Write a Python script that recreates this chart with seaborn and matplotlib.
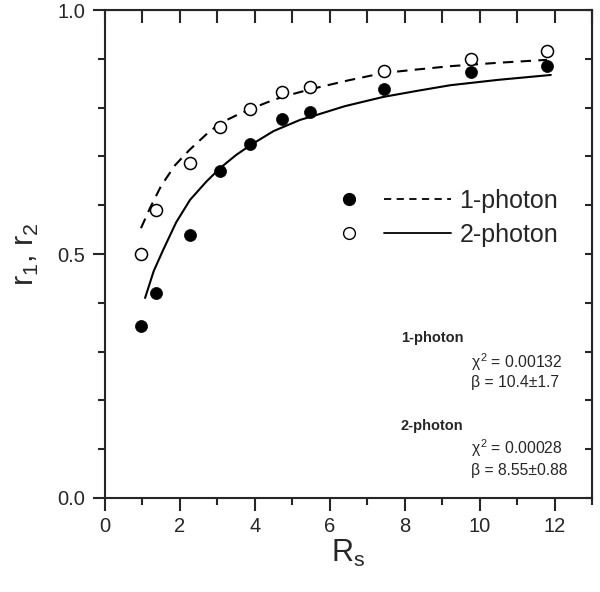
import numpy as np
import pandas as pd
import matplotlib
matplotlib.use("Agg")
import matplotlib.pyplot as plt
import seaborn as sns
from matplotlib.lines import Line2D
from matplotlib.legend_handler import HandlerBase
from matplotlib.ticker import MultipleLocator

# dati
rs = [0.97, 1.36, 2.26, 3.07, 3.88, 4.72, 5.48, 7.44, 9.76, 11.79]
r_pieni = [0.352, 0.420, 0.539, 0.670, 0.725, 0.777, 0.791, 0.838, 0.873, 0.885]
r_vuoti = [0.500, 0.590, 0.686, 0.760, 0.797, 0.832, 0.842, 0.875, 0.900, 0.916]

# curve di fit
tratt_x = [0.96, 1.2, 1.5, 1.87, 2.25, 2.7, 3.07, 3.5, 3.88, 4.3, 4.73, 5.5, 6.5, 7.43, 8.3, 9.22, 10.5, 11.8]
tratt_y = [0.553, 0.594, 0.640, 0.682, 0.713, 0.745, 0.768, 0.784, 0.797, 0.810, 0.822, 0.838, 0.856, 0.871, 0.878, 0.885, 0.892, 0.898]
cont_x = [1.07, 1.3, 1.55, 1.9, 2.27, 2.7, 3.07, 3.5, 3.88, 4.5, 5.21, 5.48, 6.4, 7.43, 8.3, 9.22, 10.5, 11.9]
cont_y = [0.410, 0.465, 0.508, 0.565, 0.611, 0.648, 0.676, 0.703, 0.723, 0.752, 0.775, 0.781, 0.803, 0.822, 0.834, 0.846, 0.857, 0.867]

etichette = ["1-photon", "2-photon"]


class HandlerPuntoLinea(HandlerBase):  # marcatore a sinistra, linea a destra
    def create_artists(self, legend, orig, xdescent, ydescent, width, height, fontsize, trans):
        punto, linea = orig
        y = height / 2 - ydescent
        m = Line2D([width * 0.09 - xdescent], [y])
        m.update_from(punto)
        m.set_transform(trans)
        l = Line2D([width * 0.4 - xdescent, width - xdescent], [y, y])
        l.update_from(linea)
        l.set_transform(trans)
        return [m, l]


sns.set_style("ticks")
plt.rcParams['font.family'] = ['Liberation Sans', 'DejaVu Sans']
plt.rcParams['mathtext.fontset'] = 'custom'
plt.rcParams['mathtext.rm'] = 'Liberation Sans'
plt.rcParams['mathtext.it'] = 'Liberation Sans'

fig = plt.figure(figsize=(6, 5.92), dpi=100)
ax = fig.add_axes([0.175, 0.1588, 0.8117, 0.8242])

df_linee = pd.DataFrame({"x": tratt_x, "y": tratt_y})
sns.lineplot(data=df_linee, x="x", y="y", ax=ax, color="black", lw=1.5,
             linestyle=(0, (5, 3.5)), sort=False, estimator=None)
df_cont = pd.DataFrame({"x": cont_x, "y": cont_y})
sns.lineplot(data=df_cont, x="x", y="y", ax=ax, color="black", lw=1.5,
             sort=False, estimator=None)

sns.scatterplot(x=rs, y=r_vuoti, ax=ax, s=75, facecolor="white",
                edgecolor="black", linewidth=1.1, zorder=3)
sns.scatterplot(x=rs, y=r_pieni, ax=ax, s=75, color="black",
                edgecolor="black", linewidth=0.5, zorder=3)

ax.set_xlim(0, 13)
ax.set_ylim(0, 1.0)
ax.xaxis.set_major_locator(MultipleLocator(2))
ax.xaxis.set_minor_locator(MultipleLocator(1))
ax.yaxis.set_major_locator(MultipleLocator(0.5))
ax.yaxis.set_minor_locator(MultipleLocator(0.1))
ax.yaxis.set_major_formatter(matplotlib.ticker.FormatStrFormatter("%.1f"))
ax.tick_params(which="major", length=9, width=1.5, labelsize=14.5, direction="out", pad=5)
ax.tick_params(which="minor", length=5, width=1.5, direction="out")
for sp in ax.spines.values():
    sp.set_linewidth(1.5)
    sp.set_visible(True)

# tacche interne sopra e a destra
top = ax.secondary_xaxis("top")
top.xaxis.set_major_locator(MultipleLocator(1))
top.tick_params(direction="in", length=9, width=1.5, labeltop=False)
dx = ax.secondary_yaxis("right")
dx.yaxis.set_major_locator(MultipleLocator(0.1))
dx.tick_params(direction="in", length=5, width=1.5, labelright=False)

ax.set_xlabel(r"R$_\mathregular{s}$", fontsize=22, labelpad=1)
ax.set_ylabel(r"r$_\mathregular{1}$, r$_\mathregular{2}$", fontsize=22, labelpad=12)

h1 = (Line2D([], [], marker="o", ls="none", color="black", markersize=8.5),
      Line2D([], [], color="black", lw=1.3, linestyle=(0, (4, 3))))
h2 = (Line2D([], [], marker="o", ls="none", markerfacecolor="white",
             markeredgecolor="black", markersize=8.5),
      Line2D([], [], color="black", lw=1.3))
ax.legend([h1, h2], etichette, handler_map={tuple: HandlerPuntoLinea()},
          loc="upper left", bbox_to_anchor=(0.48, 0.634), frameon=False,
          fontsize=18, handlelength=4.5, handletextpad=0.32, labelspacing=0.4,
          borderpad=0, borderaxespad=0)

ax.text(7.9, 0.328, "1-photon", fontsize=10.5, fontweight="bold", va="center")
ax.text(9.76, 0.279, r"$\chi^2$ = 0.00132", fontsize=11.3, va="center")
ax.text(9.76, 0.236, "β = 10.4±1.7", fontsize=11.3, va="center")
ax.text(7.9, 0.148, "2-photon", fontsize=10.5, fontweight="bold", va="center")
ax.text(9.76, 0.102, r"$\chi^2$ = 0.00028", fontsize=11.3, va="center")
ax.text(9.76, 0.057, "β = 8.55±0.88", fontsize=11.3, va="center")

fig.savefig("out.png", dpi=100)
